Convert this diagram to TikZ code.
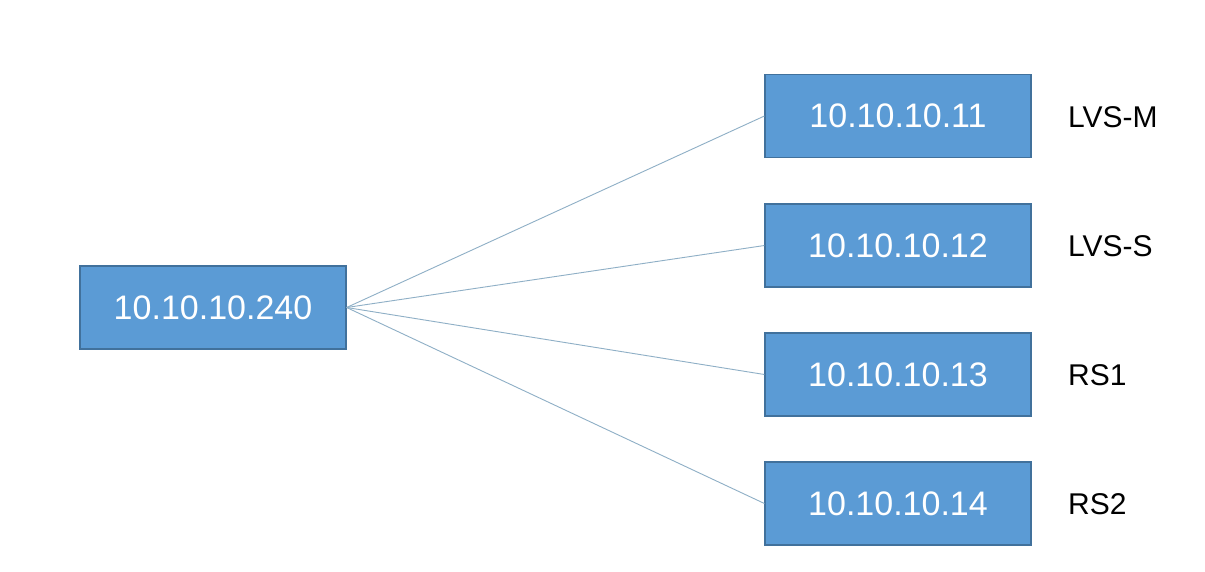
\documentclass[tikz,border=0pt]{standalone}
\usepackage{fontspec}
\setmainfont{Liberation Sans}
\definecolor{boxfill}{HTML}{5B9BD5}
\definecolor{boxline}{HTML}{41719C}
\definecolor{linkcol}{HTML}{8EAFC6}
\begin{document}
\begin{tikzpicture}[x=1pt,y=-1pt,
  ipbox/.style={draw=boxline,line width=1.2pt,fill=boxfill,minimum width=266pt,minimum height=83pt,inner sep=0pt,text=white,font=\fontsize{34}{38}\selectfont},
  tag/.style={anchor=west,inner sep=0pt,font=\fontsize{30}{34}\selectfont},
  link/.style={draw=linkcol,line width=0.9pt}]
\useasboundingbox (0,0) rectangle (1205,571);
\fill[white] (0,0) rectangle (1205,571);
\node[ipbox] (c) at (213,307.5) {10.10.10.240};
\node[ipbox] (a) at (898,116) {10.10.10.11};
\node[ipbox] (b) at (898,245.5) {10.10.10.12};
\node[ipbox] (d) at (898,374.5) {10.10.10.13};
\node[ipbox] (e) at (898,503.5) {10.10.10.14};
\node[tag] (la) at (1068,117) {LVS-M};
\node[tag] (lb) at (1068,246) {LVS-S};
\node[tag] (ld) at (1068,375) {RS1};
\node[tag] (le) at (1068,504) {RS2};
\draw[link] (c.east) -- (a.west);
\draw[link] (c.east) -- (b.west);
\draw[link] (c.east) -- (d.west);
\draw[link] (c.east) -- (e.west);
\end{tikzpicture}
\end{document}
